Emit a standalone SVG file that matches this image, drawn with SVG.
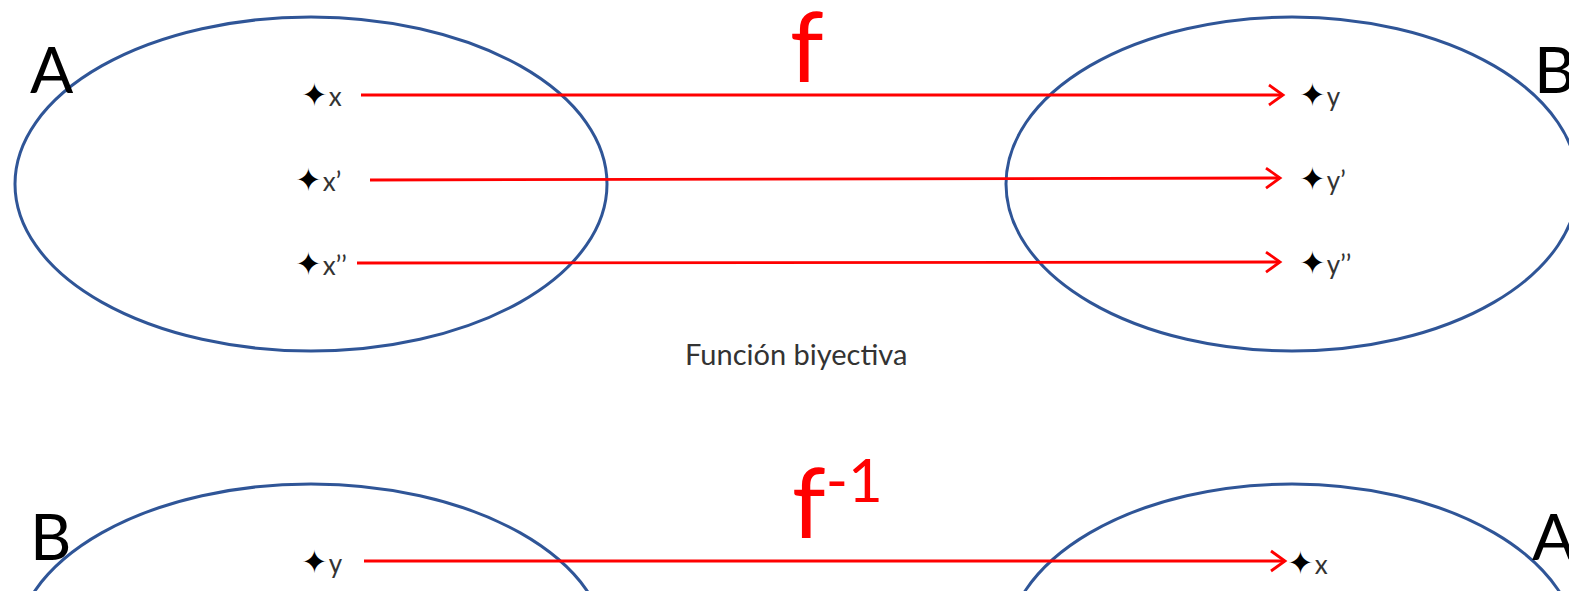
<svg xmlns="http://www.w3.org/2000/svg" width="1569" height="591" viewBox="0 0 1569 591">
<style>
.set{fill:none;stroke:#2f5597;stroke-width:3}
.arr{fill:none;stroke:#ff0000;stroke-width:2.8}
.lbl{font-family:Lato,"Liberation Sans",sans-serif;font-size:26px;fill:#333}
.star{font-family:"DejaVu Sans",sans-serif;font-size:32px;fill:#000}
.big{font-family:Lato,"Liberation Sans",sans-serif;font-size:64px;fill:#000}
.fn{font-family:Lato,"Liberation Sans",sans-serif;fill:#ff0000}
.cap{font-family:Lato,"Liberation Sans",sans-serif;font-size:29px;fill:#333}
</style>
<defs>
<marker id="ah" markerWidth="20" markerHeight="24" refX="17" refY="12" orient="auto" markerUnits="userSpaceOnUse">
<path d="M3,2 L17,12 L3,22" fill="none" stroke="#ff0000" stroke-width="2.8"/>
</marker>
</defs>
<g id="setA1"><ellipse class="set" cx="311" cy="184" rx="296" ry="167"/><text class="big" x="30" y="93">A</text></g>
<g id="setB1"><ellipse class="set" cx="1292" cy="184" rx="286" ry="167"/><text class="big" x="1534" y="93">B</text></g>
<g id="setB2"><ellipse class="set" cx="311" cy="651" rx="296" ry="167"/><text class="big" x="30" y="560">B</text></g>
<g id="setA2"><ellipse class="set" cx="1292" cy="651" rx="286" ry="167"/><text class="big" x="1532" y="560">A</text></g>
<g id="x1"><text x="301" y="106"><tspan class="star">✦</tspan><tspan class="lbl" dx="1">x</tspan></text></g>
<g id="x2"><text x="295" y="191"><tspan class="star">✦</tspan><tspan class="lbl" dx="1">x’</tspan></text></g>
<g id="x3"><text x="295" y="275"><tspan class="star">✦</tspan><tspan class="lbl" dx="1">x’’</tspan></text></g>
<g id="y1"><text x="1299" y="106"><tspan class="star">✦</tspan><tspan class="lbl" dx="1">y</tspan></text></g>
<g id="y2"><text x="1299" y="190"><tspan class="star">✦</tspan><tspan class="lbl" dx="1">y’</tspan></text></g>
<g id="y3"><text x="1299" y="274"><tspan class="star">✦</tspan><tspan class="lbl" dx="1">y’’</tspan></text></g>
<g id="y4"><text x="301" y="573"><tspan class="star">✦</tspan><tspan class="lbl" dx="1">y</tspan></text></g>
<g id="x4"><text x="1287" y="574"><tspan class="star">✦</tspan><tspan class="lbl" dx="1">x</tspan></text></g>
<g id="labels">
<text class="fn" x="790" y="82" font-size="96">f</text>
<text class="fn" x="792" y="538" font-size="96">f<tspan font-size="60" dy="-36">-1</tspan></text>
<text class="cap" x="685" y="365">Función biyectiva</text>
</g>
<g id="connectors">
<path class="arr" marker-end="url(#ah)" d="M361,95 L1283,95"/>
<path class="arr" marker-end="url(#ah)" d="M370,180 L1280,178"/>
<path class="arr" marker-end="url(#ah)" d="M357,263 L1280,262"/>
<path class="arr" marker-end="url(#ah)" d="M364,561 L1285,561"/>
</g>
</svg>
